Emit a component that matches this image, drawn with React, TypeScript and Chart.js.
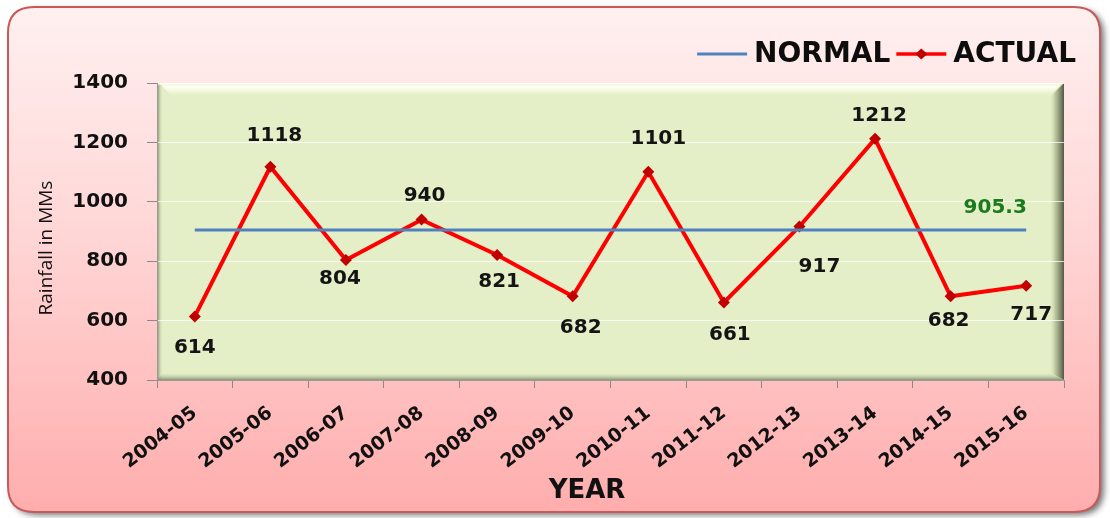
import React, { useEffect, useRef } from 'react';
import { Chart, registerables } from 'chart.js';

Chart.register(...registerables);

// ---- data ----
const years = ['2004-05', '2005-06', '2006-07', '2007-08', '2008-09', '2009-10', '2010-11', '2011-12', '2012-13', '2013-14', '2014-15', '2015-16'];
const actualRain = [614, 1118, 804, 940, 821, 682, 1101, 661, 917, 1212, 682, 717];
const normalRain = [905.3, 905.3, 905.3, 905.3, 905.3, 905.3, 905.3, 905.3, 905.3, 905.3, 905.3, 905.3];
const normalLabel = '905.3';
const yTickValues = [400, 600, 800, 1000, 1200, 1400];
const seriesNames = ['NORMAL', 'ACTUAL'];
const xTitle = 'YEAR';
const yTitle = 'Rainfall in MMs';

// label placement (style only)
const labelDx = [0, 4, -6, 3, 2, 8, 10, 6, 20, 4, -2, 5];
const labelDy = [31, -31, 19, -24, 27, 32, -33, 32, 40, -23, 25, 29];

const FONT = '"DejaVu Sans", Verdana, sans-serif';

function roundRect(ctx: CanvasRenderingContext2D, x: number, y: number, w: number, h: number, r: number) {
  ctx.beginPath();
  ctx.moveTo(x + r, y);
  ctx.lineTo(x + w - r, y);
  ctx.quadraticCurveTo(x + w, y, x + w, y + r);
  ctx.lineTo(x + w, y + h - r);
  ctx.quadraticCurveTo(x + w, y + h, x + w - r, y + h);
  ctx.lineTo(x + r, y + h);
  ctx.quadraticCurveTo(x, y + h, x, y + h - r);
  ctx.lineTo(x, y + r);
  ctx.quadraticCurveTo(x, y, x + r, y);
  ctx.closePath();
}

const backgroundPlugin = {
  id: 'bgPlugin',
  beforeDraw(chart: any) {
    const ctx: CanvasRenderingContext2D = chart.ctx;
    const W = chart.width;
    const H = chart.height;
    ctx.save();
    ctx.fillStyle = '#ffffff';
    ctx.fillRect(0, 0, W, H);
    // outer rounded panel with shadow
    const bx = 8, by = 7, bw = 1092, bh = 505;
    ctx.save();
    ctx.shadowColor = 'rgba(0,0,0,0.55)';
    ctx.shadowBlur = 6;
    ctx.shadowOffsetX = 4;
    ctx.shadowOffsetY = 3;
    roundRect(ctx, bx, by, bw, bh, 26);
    const g = ctx.createLinearGradient(0, by, 0, by + bh);
    g.addColorStop(0, '#fff0f0');
    g.addColorStop(0.45, '#ffd6d6');
    g.addColorStop(1, '#ffadad');
    ctx.fillStyle = g;
    ctx.fill();
    ctx.restore();
    roundRect(ctx, bx, by, bw, bh, 26);
    ctx.lineWidth = 2;
    ctx.strokeStyle = '#c65a5a';
    ctx.stroke();

    // plot area with bevel
    const { left, right, top, bottom } = chart.chartArea;
    ctx.fillStyle = '#e4efc8';
    ctx.fillRect(left, top, right - left, bottom - top);
    // top highlight
    const tg = ctx.createLinearGradient(0, top, 0, top + 14);
    tg.addColorStop(0, 'rgba(255,255,240,0.3)');
    tg.addColorStop(0.25, 'rgba(255,255,245,0.95)');
    tg.addColorStop(0.55, 'rgba(250,253,235,0.7)');
    tg.addColorStop(1, 'rgba(228,239,200,0)');
    ctx.beginPath();
    ctx.moveTo(left + 2, top);
    ctx.lineTo(right - 2, top);
    ctx.lineTo(right - 16, top + 14);
    ctx.lineTo(left + 16, top + 14);
    ctx.closePath();
    ctx.fillStyle = tg;
    ctx.fill();
    // right dark bevel
    const rg = ctx.createLinearGradient(right - 15, 0, right, 0);
    rg.addColorStop(0, 'rgba(228,239,200,0)');
    rg.addColorStop(0.45, 'rgba(170,180,140,0.8)');
    rg.addColorStop(1, 'rgba(80,88,66,1)');
    ctx.beginPath();
    ctx.moveTo(right, top);
    ctx.lineTo(right, bottom);
    ctx.lineTo(right - 15, bottom - 8);
    ctx.lineTo(right - 15, top + 15);
    ctx.closePath();
    ctx.fillStyle = rg;
    ctx.fill();
    // left bevel
    const lg = ctx.createLinearGradient(left, 0, left + 6, 0);
    lg.addColorStop(0, 'rgba(110,118,90,0.9)');
    lg.addColorStop(1, 'rgba(228,239,200,0)');
    ctx.fillStyle = lg;
    ctx.fillRect(left, top + 2, 6, bottom - top - 2);
    // bottom bevel
    const bg = ctx.createLinearGradient(0, bottom - 8, 0, bottom);
    bg.addColorStop(0, 'rgba(228,239,200,0)');
    bg.addColorStop(1, 'rgba(120,130,100,0.85)');
    ctx.beginPath();
    ctx.moveTo(left + 6, bottom - 8);
    ctx.lineTo(right - 15, bottom - 8);
    ctx.lineTo(right, bottom);
    ctx.lineTo(left, bottom);
    ctx.closePath();
    ctx.fillStyle = bg;
    ctx.fill();
    ctx.restore();
  },
};

const labelPlugin = {
  id: 'labelPlugin',
  afterDatasetsDraw(chart: any) {
    const ctx: CanvasRenderingContext2D = chart.ctx;
    ctx.save();
    ctx.font = `bold 20px ${FONT}`;
    ctx.textAlign = 'center';
    ctx.textBaseline = 'middle';
    ctx.fillStyle = '#141414';
    const meta = chart.getDatasetMeta(1);
    meta.data.forEach((pt: any, i: number) => {
      ctx.fillText(String(actualRain[i]), pt.x + labelDx[i], pt.y + labelDy[i]);
    });
    const nMeta = chart.getDatasetMeta(0);
    const last = nMeta.data[nMeta.data.length - 1];
    ctx.fillStyle = '#1b7a1b';
    ctx.fillText(normalLabel, last.x - 31, last.y - 22);

    // axis titles
    ctx.fillStyle = '#111111';
    ctx.font = `bold 26px ${FONT}`;
    ctx.fillText(xTitle, 587, 491);
    ctx.save();
    ctx.translate(47, 248);
    ctx.rotate(-Math.PI / 2);
    ctx.font = '19px "Open Sans", sans-serif';
    ctx.fillText(yTitle, 0, 0);
    ctx.restore();

    // legend
    const ly = 54;
    ctx.font = `bold 28px ${FONT}`;
    ctx.textAlign = 'left';
    ctx.fillStyle = '#0d0d0d';
    const wA = ctx.measureText(seriesNames[1]).width;
    const wN = ctx.measureText(seriesNames[0]).width;
    const endX = 1076;
    const aText = endX - wA;
    const aLine1 = aText - 7, aLine0 = aLine1 - 50;
    const nText = aLine0 - 6 - wN;
    const nLine1 = nText - 7, nLine0 = nLine1 - 50;
    ctx.fillText(seriesNames[0], nText, ly + 1);
    ctx.fillText(seriesNames[1], aText, ly + 1);
    ctx.lineWidth = 3;
    ctx.strokeStyle = '#4f81bd';
    ctx.beginPath();
    ctx.moveTo(nLine0, ly);
    ctx.lineTo(nLine1, ly);
    ctx.stroke();
    ctx.strokeStyle = '#ff0000';
    ctx.lineWidth = 3.5;
    ctx.beginPath();
    ctx.moveTo(aLine0, ly);
    ctx.lineTo(aLine1, ly);
    ctx.stroke();
    const cx = (aLine0 + aLine1) / 2;
    ctx.fillStyle = '#c00000';
    ctx.beginPath();
    ctx.moveTo(cx, ly - 5.5);
    ctx.lineTo(cx + 6, ly);
    ctx.lineTo(cx, ly + 5.5);
    ctx.lineTo(cx - 6, ly);
    ctx.closePath();
    ctx.fill();
    ctx.restore();
  },
};

export default function App() {
  const ref = useRef<HTMLCanvasElement | null>(null);
  useEffect(() => {
    if (!ref.current) return;
    const chart = new Chart(ref.current, {
      type: 'line',
      data: {
        labels: years,
        datasets: [
          {
            label: seriesNames[0],
            data: normalRain,
            borderColor: '#4f81bd',
            borderWidth: 3,
            pointRadius: 0,
            tension: 0,
          },
          {
            label: seriesNames[1],
            data: actualRain,
            borderColor: '#ff0000',
            borderWidth: 4,
            pointStyle: 'rectRot',
            pointRadius: 6,
            pointBackgroundColor: '#c00000',
            pointBorderColor: '#c00000',
            pointBorderWidth: 0,
            tension: 0,
          },
        ],
      },
      options: {
        responsive: false,
        animation: false,
        layout: { padding: { left: 28, right: 46, top: 83, bottom: 10 } },
        plugins: {
          legend: { display: false },
          tooltip: { enabled: false },
        },
        scales: {
          x: {
            offset: true,
            grid: {
              display: true,
              drawOnChartArea: false,
              drawTicks: true,
              tickLength: 8,
              tickColor: '#8a8a8a',
              offset: true,
            },
            border: { display: true, color: '#9a9a9a', width: 1 },
            ticks: {
              autoSkip: false,
              minRotation: 38,
              maxRotation: 38,
              padding: 14,
              color: '#111111',
              font: { family: FONT, weight: 'bold', size: 19 },
            },
            afterFit(scale: any) {
              scale.height = 128;
            },
          },
          y: {
            min: 400,
            max: 1400,
            afterBuildTicks(scale: any) {
              scale.ticks = yTickValues.map((v) => ({ value: v }));
            },
            grid: {
              color: 'rgba(255,255,255,0.75)',
              lineWidth: 1,
              tickColor: '#8a8a8a',
              tickLength: 10,
            },
            border: { display: true, color: '#9a9a9a', width: 1 },
            ticks: {
              padding: 19,
              color: '#111111',
              font: { family: FONT, weight: 'bold', size: 20 },
              callback: (v: any) => String(v),
            },
            afterFit(scale: any) {
              scale.width = 129;
            },
          },
        },
      },
      plugins: [backgroundPlugin, labelPlugin],
    } as any);
    return () => chart.destroy();
  }, []);
  return (
    <div style={{ position: 'absolute', left: 0, top: 0, width: 1110, height: 518 }}>
      <canvas ref={ref} width={1110} height={518} style={{ width: '1110px', height: '518px', display: 'block' }} />
    </div>
  );
}
